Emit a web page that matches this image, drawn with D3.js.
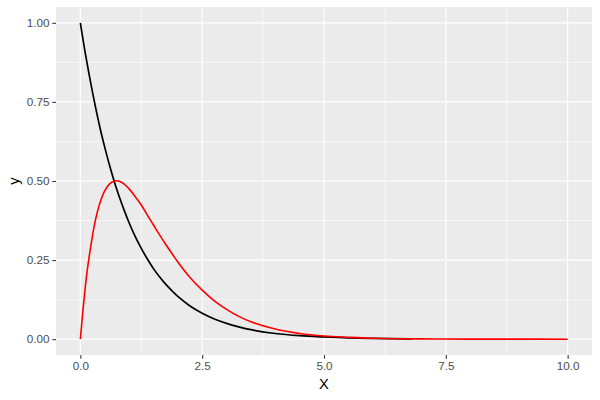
<!DOCTYPE html>
<html>
<head>
<meta charset="utf-8">
<script src="https://cdn.jsdelivr.net/npm/d3@7"></script>
<style>
  html, body { margin: 0; padding: 0; background: #fff; }
  svg { display: block; }
  text { font-family: "Liberation Sans", Arial, sans-serif; }
</style>
</head>
<body>
<svg id="chart" width="600" height="400"></svg>
<script>
// Data
const blackX = [0, 0.1, 0.25, 0.4, 0.5, 0.6, 0.75, 0.9, 1, 1.1, 1.25, 1.4, 1.5, 1.6, 1.75, 1.9, 2, 2.25, 2.5, 2.75, 3, 3.25, 3.5, 4, 4.5, 5, 5.5, 6, 6.8];
const blackY = [1, 0.905, 0.78, 0.67, 0.607, 0.549, 0.472, 0.407, 0.368, 0.333, 0.287, 0.247, 0.223, 0.202, 0.174, 0.15, 0.135, 0.105, 0.082, 0.064, 0.05, 0.039, 0.03, 0.018, 0.011, 0.007, 0.004, 0.0025, 0.001];

const redX = [0, 0.05, 0.1, 0.15, 0.2, 0.3, 0.4, 0.5, 0.6, 0.7, 0.8, 0.9, 1.0, 1.1, 1.25, 1.4, 1.5, 1.6, 1.75, 1.9, 2.0, 2.25, 2.5, 2.75, 3.0, 3.25, 3.5, 4.0, 4.5, 5.0, 5.5, 6.0, 7.0, 8.0, 9.0, 10.0];
const redY = [0, 0.087, 0.163, 0.228, 0.28, 0.37, 0.43, 0.469, 0.491, 0.5, 0.499, 0.49, 0.475, 0.456, 0.424, 0.386, 0.361, 0.336, 0.3, 0.266, 0.244, 0.195, 0.155, 0.121, 0.094, 0.072, 0.055, 0.032, 0.018, 0.010, 0.006, 0.003, 0.001, 0.0003, 0.0001, 0.0];

const xTicks = [0, 2.5, 5, 7.5, 10];
const xTickLabels = ["0.0", "2.5", "5.0", "7.5", "10.0"];
const xMinor = [1.25, 3.75, 6.25, 8.75];
const yTicks = [0, 0.25, 0.5, 0.75, 1];
const yTickLabels = ["0.00", "0.25", "0.50", "0.75", "1.00"];
const yMinor = [0.125, 0.375, 0.625, 0.875];

const panel = { left: 56, right: 592, top: 7, bottom: 355 };
const svg = d3.select("#chart");

const x = d3.scaleLinear().domain([-0.5, 10.5]).range([panel.left, panel.right]);
const y = d3.scaleLinear().domain([-0.05, 1.05]).range([panel.bottom, panel.top]);

// Panel background
svg.append("rect")
  .attr("x", panel.left).attr("y", panel.top)
  .attr("width", panel.right - panel.left).attr("height", panel.bottom - panel.top)
  .attr("fill", "#EBEBEB");

const grid = svg.append("g");
// minor grid
grid.selectAll(".xminor").data(xMinor).enter().append("line")
  .attr("x1", d => x(d)).attr("x2", d => x(d))
  .attr("y1", panel.top).attr("y2", panel.bottom)
  .attr("stroke", "#fff").attr("stroke-width", 0.6);
grid.selectAll(".yminor").data(yMinor).enter().append("line")
  .attr("y1", d => y(d)).attr("y2", d => y(d))
  .attr("x1", panel.left).attr("x2", panel.right)
  .attr("stroke", "#fff").attr("stroke-width", 0.6);
// major grid
grid.selectAll(".xmajor").data(xTicks).enter().append("line")
  .attr("x1", d => x(d)).attr("x2", d => x(d))
  .attr("y1", panel.top).attr("y2", panel.bottom)
  .attr("stroke", "#fff").attr("stroke-width", 1.2);
grid.selectAll(".ymajor").data(yTicks).enter().append("line")
  .attr("y1", d => y(d)).attr("y2", d => y(d))
  .attr("x1", panel.left).attr("x2", panel.right)
  .attr("stroke", "#fff").attr("stroke-width", 1.2);

// Lines
const line = d3.line().x(d => x(d[0])).y(d => y(d[1])).curve(d3.curveCatmullRom.alpha(0.5));
svg.append("path")
  .datum(d3.zip(blackX, blackY))
  .attr("d", line).attr("fill", "none")
  .attr("stroke", "#000").attr("stroke-width", 1.7);
svg.append("path")
  .datum(d3.zip(redX, redY))
  .attr("d", line).attr("fill", "none")
  .attr("stroke", "#FF0000").attr("stroke-width", 1.6);

// Axes
const xAxis = d3.axisBottom(x).tickValues(xTicks)
  .tickFormat((d, i) => xTickLabels[i]).tickSize(3.67).tickPadding(2.9);
const gx = svg.append("g").attr("transform", `translate(0,${panel.bottom})`).call(xAxis);
gx.select(".domain").remove();
gx.selectAll(".tick line").attr("stroke", "#333333").attr("stroke-width", 1.07);
gx.selectAll(".tick text").attr("fill", "#4D4D4D").attr("font-size", "11.7px")
  .attr("font-family", "'Liberation Sans', Arial, sans-serif");

const yAxis = d3.axisLeft(y).tickValues(yTicks)
  .tickFormat((d, i) => yTickLabels[i]).tickSize(3.67).tickPadding(2.9);
const gy = svg.append("g").attr("transform", `translate(${panel.left},0)`).call(yAxis);
gy.select(".domain").remove();
gy.selectAll(".tick line").attr("stroke", "#333333").attr("stroke-width", 1.07);
gy.selectAll(".tick text").attr("fill", "#4D4D4D").attr("font-size", "11.7px")
  .attr("font-family", "'Liberation Sans', Arial, sans-serif");

// Axis titles
svg.append("text")
  .attr("x", (panel.left + panel.right) / 2).attr("y", 389)
  .attr("text-anchor", "middle").attr("font-size", "14.7px").attr("fill", "#000")
  .text("X");
svg.append("text")
  .attr("transform", `translate(19,${(panel.top + panel.bottom) / 2}) rotate(-90)`)
  .attr("text-anchor", "middle").attr("font-size", "14.7px").attr("fill", "#000")
  .text("y");
</script>
</body>
</html>
